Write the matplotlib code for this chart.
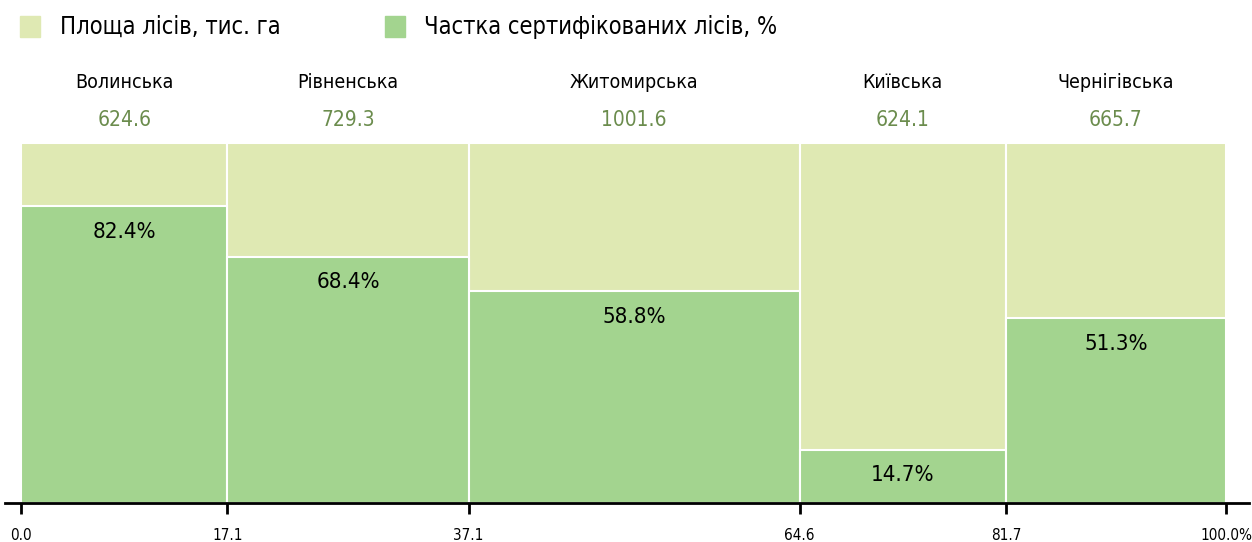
import numpy as np
import matplotlib
matplotlib.use("Agg")
import matplotlib.pyplot as plt
from matplotlib.patches import Rectangle

plt.rcParams['font.family'] = ['DejaVu Sans']
plt.rcParams['font.stretch'] = 'condensed'

regions = ["Волинська", "Рівненська", "Житомирська", "Київська", "Чернігівська"]
area = [624.6, 729.3, 1001.6, 624.1, 665.7]
certified = [82.4, 68.4, 58.8, 14.7, 51.3]

light = "#dfe9b3"
green = "#a3d48f"
olive = "#6b8c4d"

share = np.array(area) / sum(area) * 100
left = np.concatenate([[0], np.cumsum(share)[:-1]])
edges = np.concatenate([[0], np.cumsum(share)])

fig = plt.figure(figsize=(12.52, 5.42), dpi=100)
ax = fig.add_axes([5 / 1252, 39 / 542, 1244 / 1252, 360 / 542])

ax.bar(left, [100] * len(area), width=share, align="edge",
       color=light, edgecolor="white", linewidth=1.5)
ax.bar(left, certified, width=share, align="edge",
       color=green, edgecolor="white", linewidth=1.5)

for x, w, name, a, c in zip(left, share, regions, area, certified):
  cx = x + w / 2
  ax.text(cx, 116.7, name, ha="center", va="center", fontsize=14, clip_on=False)
  ax.text(cx, 106.3, f"{a:.1f}", ha="center", va="center", fontsize=15,
          color=olive, clip_on=False)
  ax.text(cx, c - 7, f"{c:.1f}%", ha="center", va="center", fontsize=16)

px = 100 / 1205
ax.set_xlim(-16 * px, 100 + 23 * px)
ax.set_ylim(0, 100)

ticklabels = [f"{e:.1f}" for e in edges]
ticklabels[-1] += "%"
ax.set_xticks(edges)
ax.set_xticklabels(ticklabels, fontsize=11)
ax.tick_params(axis="x", length=8, width=2, pad=10)
ax.set_yticks([])
for s in ["top", "right", "left"]:
  ax.spines[s].set_visible(False)
ax.spines["bottom"].set_linewidth(2)

# legend
fig.patches.append(Rectangle((20 / 1252, 1 - 37 / 542), 20 / 1252, 21 / 542,
                             transform=fig.transFigure, color=light))
fig.text(60 / 1252, 1 - 27 / 542, "Площа лісів, тис. га", fontsize=17,
         va="center")
fig.patches.append(Rectangle((385 / 1252, 1 - 37 / 542), 20 / 1252, 21 / 542,
                             transform=fig.transFigure, color=green))
fig.text(424 / 1252, 1 - 27 / 542, "Частка сертифікованих лісів, %",
         fontsize=17, va="center")

fig.savefig("out.png", dpi=100)
